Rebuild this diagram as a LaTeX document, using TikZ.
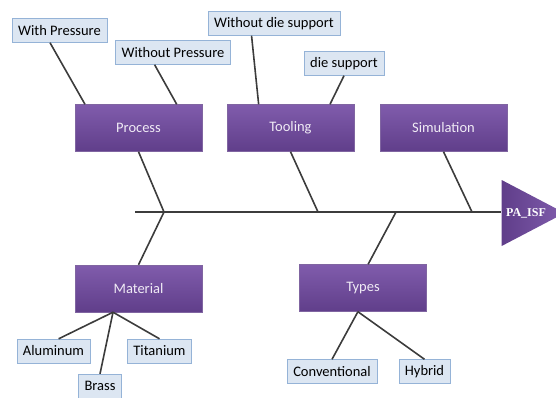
\documentclass[tikz,border=0pt]{standalone}
\usepackage{fontspec}
\setmainfont{Carlito}
\newfontfamily\effectfont{Liberation Serif}
\usepackage{tikz}
\definecolor{causepurple}{RGB}{128, 92, 172}
\definecolor{causedark}{RGB}{96, 62, 138}
\definecolor{leafblue}{RGB}{220, 230, 242}
\definecolor{leafedge}{RGB}{149, 179, 215}
\definecolor{bonegray}{RGB}{60, 60, 60}
\usetikzlibrary{shapes.geometric, calc, positioning}

\begin{document}
\begin{tikzpicture}[
    x=1pt, y=-1pt,
    causebox/.style={rectangle, draw=causedark!80, top color=causepurple, bottom color=causedark, minimum width=127pt, minimum height=47pt, font=\fontsize{14.5}{16}\selectfont, text=white!88!causepurple},
    leafbox/.style={rectangle, draw=leafedge, fill=leafblue, minimum height=24pt, inner xsep=6pt, font=\fontsize{14.5}{16}\selectfont},
    effect/.style={isosceles triangle, isosceles triangle stretches, shape border rotate=0, left color=causedark, right color=causepurple, minimum width=66pt, minimum height=63pt, inner sep=0pt, font=\effectfont\bfseries\fontsize{12}{14}\selectfont, text=white},
    bone/.style={bonegray, line width=1.6pt}
]
    \useasboundingbox (0,0) rectangle (556,397);

    % main causes
    \node[causebox] (process) at (138.5,128) {Process};
    \node[causebox] (tooling) at (290.5,128) {Tooling};
    \node[causebox] (simulation) at (443.5,128) {Simulation};
    \node[causebox] (material) at (138.5,288.5) {Material};
    \node[causebox] (types) at (363,288) {Types};

    % sub causes
    \node[leafbox] (withp) at (59.5,30.5) {With Pressure};
    \node[leafbox] (withoutp) at (173,52.5) {Without Pressure};
    \node[leafbox] (nodie) at (274,23.5) {Without die support};
    \node[leafbox] (die) at (344,63.5) {die support};
    \node[leafbox] (aluminum) at (53.5,351) {Aluminum};
    \node[leafbox] (brass) at (100,386) {Brass};
    \node[leafbox] (titanium) at (159.5,351) {Titanium};
    \node[leafbox] (conventional) at (332,371.5) {Conventional};
    \node[leafbox] (hybrid) at (424.5,371.5) {Hybrid};

    % head and spine
    \node[effect] (head) at (526,213) {PA\_ISF};
    \coordinate (tail) at (135,212);
    \coordinate (jprocess) at (164,212);
    \coordinate (jtooling) at (318,212);
    \coordinate (jsimulation) at (472,212);
    \coordinate (jtypes) at (396,212);
    \draw[bone] (tail) -- (head.west |- tail);

    \draw[bone] (process.south) -- (jprocess);
    \draw[bone] (tooling.south) -- (jtooling);
    \draw[bone] (simulation.south) -- (jsimulation);
    \draw[bone] (jprocess) -- (material.north);
    \draw[bone] (jtypes) -- ($(types.north west)!0.54!(types.north east)$);

    \draw[bone] ($(withp.south west)!0.4!(withp.south east)$) -- ($(process.north west)!0.08!(process.north east)$);
    \draw[bone] ($(withoutp.south west)!0.34!(withoutp.south east)$) -- ($(process.north west)!0.8!(process.north east)$);
    \draw[bone] ($(nodie.south west)!0.33!(nodie.south east)$) -- ($(tooling.north west)!0.25!(tooling.north east)$);
    \draw[bone] (die.south) -- ($(tooling.north west)!0.81!(tooling.north east)$);

    \draw[bone] ($(material.south west)!0.3!(material.south east)$) -- ($(aluminum.north west)!0.57!(aluminum.north east)$);
    \draw[bone] ($(material.south west)!0.3!(material.south east)$) -- (brass.north);
    \draw[bone] ($(material.south west)!0.3!(material.south east)$) -- (titanium.north);
    \draw[bone] ($(types.south west)!0.46!(types.south east)$) -- (conventional.north);
    \draw[bone] ($(types.south west)!0.46!(types.south east)$) -- (hybrid.north);
\end{tikzpicture}
\end{document}
